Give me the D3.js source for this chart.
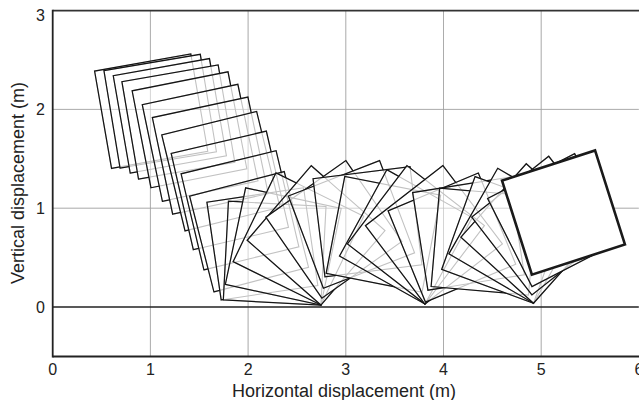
<!DOCTYPE html>
<html>
<head>
<meta charset="utf-8">
<script src="https://cdn.jsdelivr.net/npm/d3@7"></script>
<style>
  html, body { margin: 0; padding: 0; background: #fff; }
  svg { display: block; font-family: "Liberation Sans", Arial, Helvetica, sans-serif; }
</style>
</head>
<body>
<svg id="chart" width="639" height="400"></svg>
<script>
// Square (1 m side) snapshots: centre position (m) and rotation (deg, counter-clockwise)
const frameX = [1.008, 1.100, 1.199, 1.286, 1.400, 1.509, 1.613, 1.721, 1.813, 1.917, 2.010, 2.146,
                2.272, 2.360, 2.515, 2.696, 2.878, 3.058, 3.222, 3.385,
                3.615, 3.718, 3.902, 4.086, 4.256, 4.415,
                4.622, 4.738, 4.884, 4.991, 5.124, 5.228];
const frameY = [1.982, 1.982, 1.935, 1.873, 1.794, 1.662, 1.532, 1.375, 1.180, 0.979, 0.762, 0.639,
                0.545, 0.613, 0.689, 0.725, 0.786, 0.836, 0.863, 0.736,
                0.710, 0.731, 0.731, 0.703, 0.742, 0.662,
                0.679, 0.721, 0.744, 0.824, 0.879, 0.956];
const frameAngle = [10.0, 9.5, 10.0, 9.8, 11.1, 11.9, 12.0, 13.8, 13.1, 13.5, 14.4, 8.4,
                -3, -12, -26, -41, -55, -69, -83, -101,
                -119, -127.5, -142.5, -157.5, -171, -185,
                -200, -210, -222, -232, -243, -252.2];
const squareSide = 1.0;
const xTicks = [0, 1, 2, 3, 4, 5, 6];
const yTicks = [0, 1, 2, 3];
const xLabel = "Horizontal displacement (m)";
const yLabel = "Vertical displacement (m)";

const svg = d3.select("#chart");
const pL = 52.7, pR = 638.9, pT = 10.6, pB = 356.4;
const x = d3.scaleLinear().domain([0, 6]).range([pL, pR]);
const y = d3.scaleLinear().domain([-0.5, 3]).range([pB, pT]);

const frames = frameX.map((cx, i) => ({cx, cy: frameY[i], a: frameAngle[i]}));
function corners(f) {
  const t = f.a * Math.PI / 180, h = squareSide / 2;
  return [[-h, -h], [h, -h], [h, h], [-h, h]].map(([u, v]) =>
    [x(f.cx + u * Math.cos(t) - v * Math.sin(t)), y(f.cy + u * Math.sin(t) + v * Math.cos(t))]);
}
const line = d3.line().curve(d3.curveLinearClosed);

svg.append("defs").append("clipPath").attr("id", "clip")
  .append("rect").attr("x", pL).attr("y", pT).attr("width", pR - pL).attr("height", pB - pT);

const plot = svg.append("g").attr("clip-path", "url(#clip)");
const gxVals = xTicks.filter(v => v > 0 && v < 6);
const gyVals = yTicks.filter(v => v > 0 && v < 3);

// grid
const grid = plot.append("g");
grid.selectAll(".gx").data(gxVals).join("line").attr("class", "gx")
  .attr("x1", d => x(d)).attr("x2", d => x(d)).attr("y1", pT).attr("y2", pB)
  .attr("stroke", "#cfcfcf").attr("stroke-width", 1);
grid.selectAll(".gy").data(gyVals).join("line").attr("class", "gy")
  .attr("x1", pL).attr("x2", pR).attr("y1", d => y(d)).attr("y2", d => y(d))
  .attr("stroke", "#cfcfcf").attr("stroke-width", 1);

const body = frames.slice(0, -1);
const last = frames[frames.length - 1];

// squares in time order (white fill hides earlier ones)
plot.append("g").selectAll("path").data(body).join("path")
  .attr("d", d => line(corners(d)))
  .attr("fill", "#fff").attr("stroke", "#1c1c1c").attr("stroke-width", 1.25)
  .attr("stroke-linejoin", "miter");

// faint overlay of hidden edges and grid
const ov = plot.append("g").attr("opacity", 0.24);
ov.selectAll("path").data(body).join("path")
  .attr("d", d => line(corners(d)))
  .attr("fill", "none").attr("stroke", "#000").attr("stroke-width", 1.1);
ov.selectAll(".gx").data(gxVals).join("line").attr("class", "gx")
  .attr("x1", d => x(d)).attr("x2", d => x(d)).attr("y1", pT).attr("y2", pB)
  .attr("stroke", "#000").attr("stroke-opacity", 0.7).attr("stroke-width", 1);
ov.selectAll(".gy").data(gyVals).join("line").attr("class", "gy")
  .attr("x1", pL).attr("x2", pR).attr("y1", d => y(d)).attr("y2", d => y(d))
  .attr("stroke", "#000").attr("stroke-opacity", 0.7).attr("stroke-width", 1);

// final square, bold
plot.append("path").attr("d", line(corners(last)))
  .attr("fill", "#fff").attr("stroke", "#1a1a1a").attr("stroke-width", 2.6)
  .attr("stroke-linejoin", "miter");

// ground line
plot.append("line").attr("x1", pL).attr("x2", pR).attr("y1", y(0)).attr("y2", y(0))
  .attr("stroke", "#222").attr("stroke-width", 1.6);

// frame
svg.append("line").attr("x1", pL).attr("x2", 639).attr("y1", pT).attr("y2", pT)
  .attr("stroke", "#333").attr("stroke-width", 1.6);
svg.append("line").attr("x1", pL).attr("x2", 639).attr("y1", pB).attr("y2", pB)
  .attr("stroke", "#222").attr("stroke-width", 2);
svg.append("line").attr("x1", pL).attr("x2", pL).attr("y1", pT - 0.8).attr("y2", pB + 1)
  .attr("stroke", "#222").attr("stroke-width", 1.8);

// tick labels
svg.append("g").selectAll("text").data(xTicks).join("text")
  .attr("x", d => x(d)).attr("y", 375)
  .attr("text-anchor", "middle").attr("font-size", 16).attr("fill", "#222")
  .text(d => d);
svg.append("g").selectAll("text").data(yTicks).join("text")
  .attr("x", 45).attr("y", d => Math.max(y(d), 15) + 5.6)
  .attr("text-anchor", "end").attr("font-size", 16).attr("fill", "#222")
  .text(d => d);

// axis titles
svg.append("text").attr("x", 344).attr("y", 397).attr("text-anchor", "middle")
  .attr("font-size", 18).attr("fill", "#222").text(xLabel);
svg.append("text").attr("transform", "translate(24,183) rotate(-90)").attr("text-anchor", "middle")
  .attr("font-size", 18).attr("fill", "#222").text(yLabel);
</script>
</body>
</html>
